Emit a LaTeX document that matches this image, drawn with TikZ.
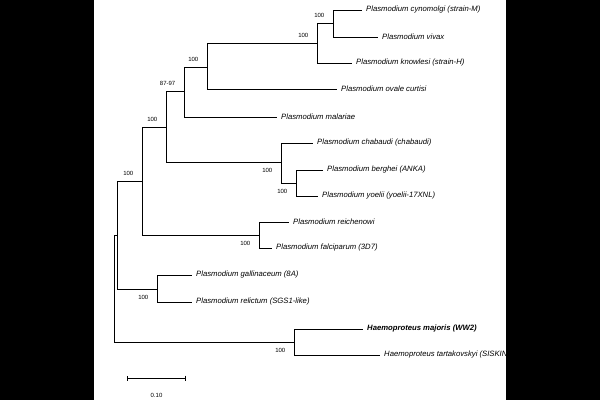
\documentclass[tikz,border=0pt]{standalone}
\usepackage{fontspec}
\setmainfont{Liberation Sans}
\usepackage{tikz}
\usetikzlibrary{arrows.meta,positioning}

\begin{document}
\begin{tikzpicture}[
    x=1pt, y=-1pt,
    taxon/.style={anchor=west, inner xsep=4pt, inner ysep=0pt, font=\fontsize{7.7}{9}\selectfont\itshape},
    boot/.style={inner sep=0pt, font=\fontsize{6}{7}\selectfont},
    bsup/.style={boot, anchor=south east, xshift=-8.5pt, yshift=5.5pt},
    bsdown/.style={boot, anchor=north east, xshift=-8.5pt, yshift=-6pt},
    branch/.style={line width=1pt}
]

\useasboundingbox (0,0) rectangle (600,400);

% clade points (x = node depth, y = where the parent branch comes in)
\coordinate (root) at (114,288);
\coordinate (plasmo) at (117,235);
\coordinate (mammal) at (142,181);
\coordinate (vivrod) at (166,127);
\coordinate (primate) at (184,91);
\coordinate (vivov) at (207,67);
\coordinate (vivknw) at (317,43);
\coordinate (vivcyn) at (333,23.5);
\coordinate (rodent) at (281,162.5);
\coordinate (bergyoe) at (296,183);
\coordinate (laver) at (259,235);
\coordinate (avian) at (157,289);
\coordinate (haem) at (294,342);

\node[taxon] (cyno) at (362,10) {Plasmodium cynomolgi (strain-M)};
\node[taxon] (viva) at (378,37) {Plasmodium vivax};
\node[taxon] (know) at (352,63) {Plasmodium knowlesi (strain-H)};
\node[taxon] (oval) at (337,89) {Plasmodium ovale curtisi};
\node[taxon] (mala) at (277,117) {Plasmodium malariae};
\node[taxon] (chab) at (313,143) {Plasmodium chabaudi (chabaudi)};
\node[taxon] (berg) at (323,170) {Plasmodium berghei (ANKA)};
\node[taxon] (yoel) at (318,196) {Plasmodium yoelii (yoelii-17XNL)};
\node[taxon] (reic) at (289,222) {Plasmodium reichenowi};
\node[taxon] (falc) at (272,248) {Plasmodium falciparum (3D7)};
\node[taxon] (gall) at (192,275) {Plasmodium gallinaceum (8A)};
\node[taxon] (reli) at (192,302) {Plasmodium relictum (SGS1-like)};
\node[taxon, font=\fontsize{7.7}{9}\selectfont\bfseries\itshape] (majo) at (363,329) {Haemoproteus majoris (WW2)};
\node[taxon] (tart) at (380,355) {Haemoproteus tartakovskyi (SISKIN)};

\draw[branch] (root) |- (plasmo) (root) |- (haem);
\draw[branch] (plasmo) |- (mammal) (plasmo) |- (avian);
\draw[branch] (mammal) |- (vivrod) (mammal) |- (laver);
\draw[branch] (vivrod) |- (primate) (vivrod) |- (rodent);
\draw[branch] (primate) |- (vivov) (primate) |- (mala.west);
\draw[branch] (vivov) |- (vivknw) (vivov) |- (oval.west);
\draw[branch] (vivknw) |- (vivcyn) (vivknw) |- (know.west);
\draw[branch] (vivcyn) |- (cyno.west) (vivcyn) |- (viva.west);
\draw[branch] (rodent) |- (chab.west) (rodent) |- (bergyoe);
\draw[branch] (bergyoe) |- (berg.west) (bergyoe) |- (yoel.west);
\draw[branch] (laver) |- (reic.west) (laver) |- (falc.west);
\draw[branch] (avian) |- (gall.west) (avian) |- (reli.west);
\draw[branch] (haem) |- (majo.west) (haem) |- (tart.west);

% bootstrap support
\node[bsup] (bsMammal) at (mammal) {100};
\node[bsup] (bsVivrod) at (vivrod) {100};
\node[bsup] (bsPrimate) at (primate) {87-97};
\node[bsup] (bsVivov) at (vivov) {100};
\node[bsup] (bsVivknw) at (vivknw) {100};
\node[bsup] (bsVivcyn) at (vivcyn) {100};
\node[bsdown] (bsRodent) at (rodent) {100};
\node[bsdown] (bsBergyoe) at (bergyoe) {100};
\node[bsdown] (bsLaver) at (laver) {100};
\node[bsdown] (bsAvian) at (avian) {100};
\node[bsdown] (bsHaem) at (haem) {100};

% scale bar
\coordinate (sbL) at (127,378);
\coordinate (sbR) at (186,378);
\draw[line width=0.8pt, {Bar[width=5pt]}-{Bar[width=5pt]}] (sbL) -- (sbR);
\node[boot] (sbText) at (156.5,395) {0.10};

\fill[black] (0,0) rectangle (94,400);
\fill[black] (506,0) rectangle (600,400);

\end{tikzpicture}
\end{document}
